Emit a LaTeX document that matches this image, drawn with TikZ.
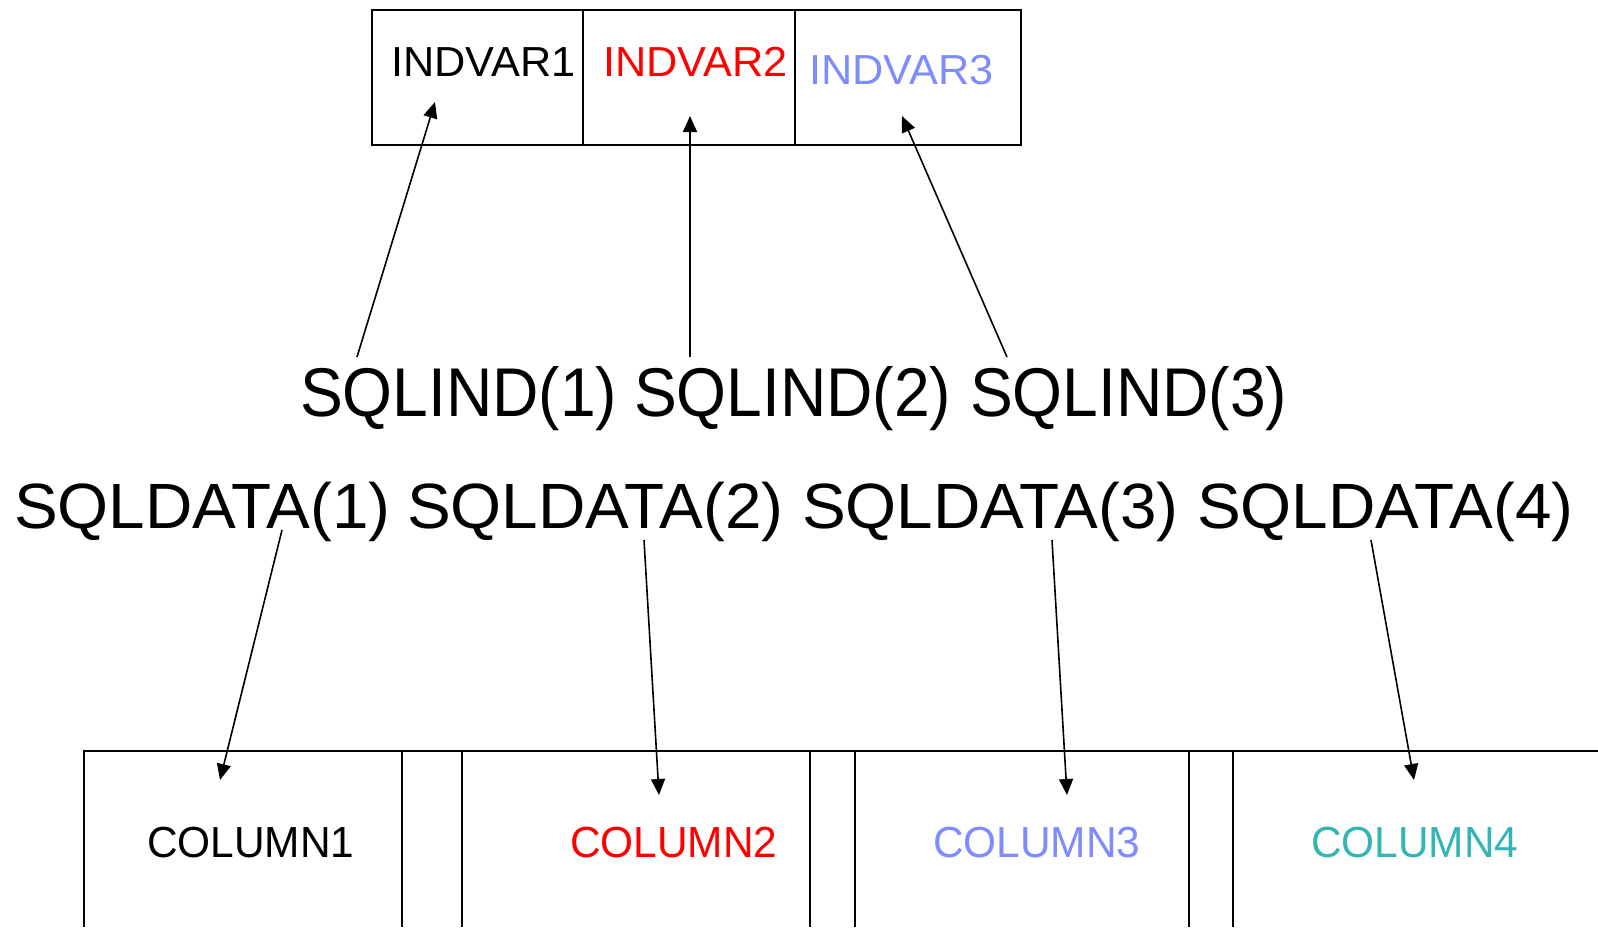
\documentclass[tikz,border=0pt]{standalone}
\usepackage{fontspec}
\setmainfont{Liberation Sans}
\usetikzlibrary{arrows.meta}
\definecolor{indblue}{RGB}{127,140,255}
\definecolor{colteal}{RGB}{51,181,181}
\definecolor{pure red}{RGB}{255,0,0}
\begin{document}
\begin{tikzpicture}[x=1pt,y=-1pt,
  frame/.style={line width=2pt, draw=black},
  lbl/.style={anchor=base west, inner sep=0pt, outer sep=0pt},
  small/.style={lbl, font=\fontsize{42}{42}\selectfont},
  colname/.style={lbl, font=\fontsize{43.5}{43.5}\selectfont},
  indword/.style={lbl, font=\fontsize{69}{69}\selectfont},
  dataword/.style={lbl, font=\fontsize{64}{64}\selectfont},
  ptr/.style={line width=1.6pt, -{Triangle[length=16pt,width=14pt]}}
]
\useasboundingbox (0,0) rectangle (1598,927);

% indicator variable array
\draw[frame] (372,10) rectangle (1021,145);
\draw[frame] (583,10) -- (583,145);
\draw[frame] (795,10) -- (795,145);
\node[small] (v1) at (391,76) {\scalebox{1.03}[1]{INDVAR1}};
\node[small, text=pure red] (v2) at (603,76) {\scalebox{1.03}[1]{INDVAR2}};
\node[small, text=indblue] (v3) at (809,84) {\scalebox{1.03}[1]{INDVAR3}};

% SQLIND entries
\node[indword] (si1) at (300,416) {\scalebox{0.93}[1]{SQLIND(1)}};
\node[indword] (si2) at (634,416) {\scalebox{0.93}[1]{SQLIND(2)}};
\node[indword] (si3) at (970,416) {\scalebox{0.93}[1]{SQLIND(3)}};

% SQLDATA entries
\node[dataword] (sd1) at (14,528) {\scalebox{1.025}[1]{SQLDATA(1)}};
\node[dataword] (sd2) at (407,528) {\scalebox{1.025}[1]{SQLDATA(2)}};
\node[dataword] (sd3) at (802,528) {\scalebox{1.025}[1]{SQLDATA(3)}};
\node[dataword] (sd4) at (1197,528) {\scalebox{1.025}[1]{SQLDATA(4)}};

% host variable columns
\draw[frame] (84,927) -- (84,751) -- (1598,751);
\foreach \xx in {402,462,810,855,1189,1233}
  \draw[frame] (\xx,751) -- (\xx,927);
\node[colname] (c1) at (147,857) {\scalebox{0.975}[1]{COLUMN1}};
\node[colname, text=pure red] (c2) at (570,857) {\scalebox{0.975}[1]{COLUMN2}};
\node[colname, text=indblue] (c3) at (933,857) {\scalebox{0.975}[1]{COLUMN3}};
\node[colname, text=colteal] (c4) at (1311,857) {\scalebox{0.975}[1]{COLUMN4}};

% pointer ends
\coordinate (si1p) at (357,357);
\coordinate (si2p) at (690,357);
\coordinate (si3p) at (1007,357);
\coordinate (v1p) at (435,102);
\coordinate (v2p) at (690,116);
\coordinate (v3p) at (902,116);
\coordinate (sd1p) at (282,530);
\coordinate (sd2p) at (644,540);
\coordinate (sd3p) at (1052,540);
\coordinate (sd4p) at (1371,540);
\coordinate (c1p) at (220,780);
\coordinate (c2p) at (659,795);
\coordinate (c3p) at (1067,795);
\coordinate (c4p) at (1414,780);

\draw[ptr] (si1p) -- (v1p);
\draw[ptr] (si2p) -- (v2p);
\draw[ptr] (si3p) -- (v3p);
\draw[ptr] (sd1p) -- (c1p);
\draw[ptr] (sd2p) -- (c2p);
\draw[ptr] (sd3p) -- (c3p);
\draw[ptr] (sd4p) -- (c4p);
\end{tikzpicture}
\end{document}
